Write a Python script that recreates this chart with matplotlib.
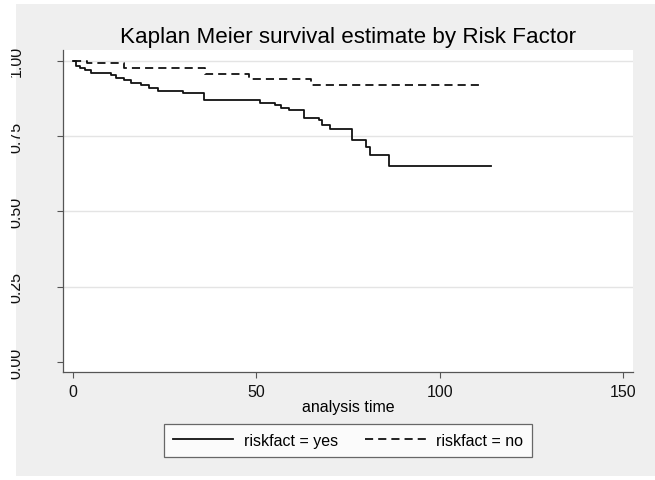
import matplotlib
matplotlib.use("Agg")
import matplotlib.pyplot as plt
from matplotlib.patches import Rectangle

plt.rcParams["font.family"] = ["Liberation Sans", "DejaVu Sans"]

# Kaplan-Meier step estimates (time, survival)
yes_time = [0, 0.8, 1.9, 3.3, 5.1, 10.5, 11.9, 14.1, 15.9, 18.7, 20.9, 23.2, 30.0,
            35.8, 51.0, 55.0, 56.8, 59.0, 63.0, 67.0, 68.0, 70.2, 76.0, 80.0, 81.0,
            86.2, 114.0]
yes_surv = [1.0, 0.984, 0.976, 0.968, 0.960, 0.953, 0.942, 0.935, 0.926, 0.920, 0.909,
            0.901, 0.892, 0.871, 0.860, 0.852, 0.843, 0.835, 0.811, 0.802, 0.787,
            0.772, 0.738, 0.713, 0.688, 0.650, 0.650]
no_time = [0, 4.0, 14.0, 36.0, 48.0, 65.0, 111.5]
no_surv = [1.0, 0.994, 0.975, 0.957, 0.940, 0.918, 0.918]

x_ticks = [0, 50, 100, 150]
y_ticks = [0.0, 0.25, 0.5, 0.75, 1.0]
y_labels = ["0.00", "0.25", "0.50", "0.75", "1.00"]

W, H = 655, 481
fig = plt.figure(figsize=(W / 100, H / 100), dpi=100, facecolor="white")
# grey outer region (Stata style)
fig.add_artist(Rectangle((16 / W, 4 / H), 1, (H - 9) / H, transform=fig.transFigure,
                         facecolor="#efefef", edgecolor="none", zorder=-10))

ax = fig.add_axes([63 / W, 108 / H, 570 / W, 322 / H])
ax.set_facecolor("white")

ax.step(yes_time, yes_surv, where="post", color="#111111", lw=1.3, label="riskfact = yes")
ax.step(no_time, no_surv, where="post", color="#111111", lw=1.3, dashes=(4.5, 2.8),
        label="riskfact = no")

ax.set_xlim(-2.64, 152.7)
ax.set_ylim(-0.033, 1.0355)
ax.set_xticks(x_ticks)
ax.set_yticks(y_ticks)
ax.set_yticklabels(y_labels, rotation=90, va="center")

for y in y_ticks[1:]:
    ax.axhline(y, color="#e4e4e4", lw=1.0, zorder=0)

for s in ["top", "right"]:
    ax.spines[s].set_visible(False)
for s in ["left", "bottom"]:
    ax.spines[s].set_color("#555555")
    ax.spines[s].set_linewidth(0.9)

ax.tick_params(axis="both", direction="out", length=4.3, width=0.8, color="#555555",
               labelsize=11.5, labelcolor="#111111")
ax.tick_params(axis="x", pad=4)
ax.tick_params(axis="y", pad=24)

ax.set_xlabel("analysis time", fontsize=11.5, labelpad=0)
ax.set_title("Kaplan Meier survival estimate by Risk Factor", fontsize=16.1, pad=6)

leg = ax.legend(loc="center", bbox_to_anchor=(0.5, -0.213), ncol=2, fontsize=11.5,
                frameon=True, fancybox=False, handlelength=3.8, handletextpad=0.65,
                columnspacing=1.7, borderpad=0.55)
leg.get_frame().set_edgecolor("#444444")
leg.get_frame().set_linewidth(0.9)
leg.get_frame().set_facecolor("white")

# left edge of the picture cuts into the y labels
fig.add_artist(Rectangle((0, 0), 11 / W, 1, transform=fig.transFigure,
                         facecolor="white", edgecolor="none", zorder=10))

fig.savefig("out.png", dpi=100, facecolor="white")
